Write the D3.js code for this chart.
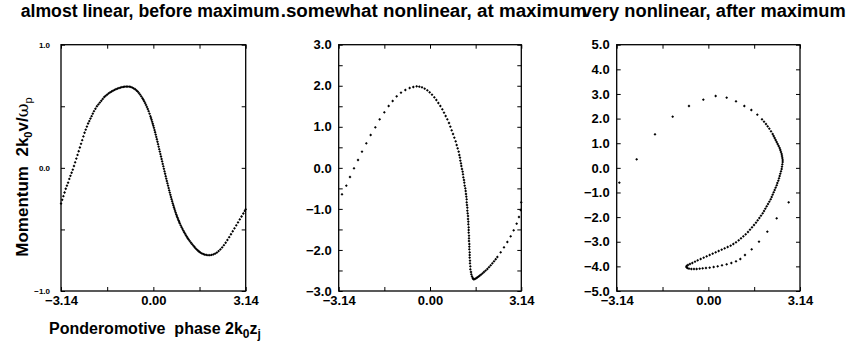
<!DOCTYPE html>
<html>
<head>
<meta charset="utf-8">
<script src="https://cdn.jsdelivr.net/npm/d3@7"></script>
<style>
  body { margin: 0; background: #fff; }
  svg text { font-family: "Liberation Sans", Arial, Helvetica, sans-serif; font-weight: bold; fill: #000; }
</style>
</head>
<body>
<svg id="chart" width="848" height="346"></svg>
<script>
// panel titles
const titles = ["almost linear, before maximum", ".somewhat nonlinear, at maximum", "very nonlinear, after maximum"];

// phase-space points [phase, momentum]
const almostLinear = [
  [-3.14,-0.29],[-3.10,-0.26],[-3.06,-0.23],[-3.02,-0.20],[-2.98,-0.17],[-2.94,-0.145],[-2.90,-0.12],[-2.86,-0.09],
  [-2.82,-0.065],[-2.78,-0.04],[-2.74,-0.015],[-2.70,0.015],[-2.66,0.045],[-2.62,0.075],[-2.58,0.105],[-2.54,0.135],
  [-2.50,0.165],[-2.46,0.195],[-2.42,0.225],[-2.38,0.255],[-2.34,0.285],[-2.30,0.31],[-2.26,0.335],[-2.22,0.36],
  [-2.18,0.38],[-2.14,0.40],[-2.10,0.42],[-2.06,0.44],[-2.02,0.46],[-1.97,0.48],[-1.92,0.50],[-1.87,0.515],
  [-1.82,0.53],[-1.77,0.545],[-1.72,0.56],[-1.67,0.575],[-1.62,0.585],[-1.57,0.595],[-1.52,0.605],[-1.47,0.613],
  [-1.42,0.62],[-1.37,0.627],[-1.32,0.633],[-1.27,0.639],[-1.22,0.644],[-1.17,0.648],[-1.12,0.652],[-1.07,0.655],
  [-1.02,0.657],[-0.97,0.659],[-0.92,0.66],[-0.87,0.66],[-0.82,0.659],[-0.77,0.657],[-0.72,0.652],[-0.67,0.646],
  [-0.62,0.638],[-0.57,0.628],[-0.53,0.619],[-0.49,0.607],[-0.45,0.594],[-0.41,0.58],[-0.37,0.565],[-0.34,0.553],
  [-0.31,0.54],[-0.28,0.526],[-0.25,0.511],[-0.22,0.495],[-0.19,0.478],[-0.16,0.46],[-0.13,0.44],[-0.10,0.42],
  [-0.08,0.405],[-0.06,0.39],[-0.04,0.374],[-0.02,0.358],[0.00,0.342],[0.02,0.325],[0.04,0.307],[0.06,0.289],
  [0.08,0.27],[0.10,0.251],[0.12,0.232],[0.14,0.212],[0.16,0.192],[0.18,0.172],[0.20,0.152],[0.22,0.132],
  [0.24,0.112],[0.26,0.092],[0.28,0.072],[0.30,0.052],[0.32,0.032],[0.34,0.012],[0.36,-0.008],[0.38,-0.028],
  [0.40,-0.048],[0.42,-0.068],[0.44,-0.088],[0.46,-0.107],[0.48,-0.126],[0.50,-0.145],[0.52,-0.164],[0.54,-0.183],
  [0.56,-0.201],[0.58,-0.219],[0.60,-0.237],[0.62,-0.254],[0.64,-0.271],[0.66,-0.288],[0.68,-0.304],[0.70,-0.32],
  [0.72,-0.335],[0.74,-0.35],[0.76,-0.364],[0.78,-0.378],[0.80,-0.391],[0.82,-0.404],[0.84,-0.416],[0.86,-0.428],
  [0.88,-0.44],[0.90,-0.451],[0.93,-0.467],[0.96,-0.482],[0.99,-0.496],[1.02,-0.51],[1.05,-0.523],[1.08,-0.536],
  [1.11,-0.548],[1.14,-0.56],[1.17,-0.571],[1.20,-0.582],[1.24,-0.595],[1.28,-0.608],[1.32,-0.62],[1.36,-0.632],
  [1.40,-0.643],[1.44,-0.654],[1.48,-0.664],[1.52,-0.673],[1.56,-0.681],[1.60,-0.688],[1.65,-0.695],[1.70,-0.70],
  [1.75,-0.704],[1.80,-0.707],[1.86,-0.709],[1.92,-0.709],[1.98,-0.707],[2.04,-0.703],[2.10,-0.697],[2.16,-0.688],
  [2.22,-0.676],[2.28,-0.662],[2.34,-0.646],[2.40,-0.628],[2.46,-0.608],[2.52,-0.586],[2.58,-0.563],[2.64,-0.539],
  [2.70,-0.515],[2.76,-0.491],[2.82,-0.467],[2.88,-0.443],[2.94,-0.419],[3.00,-0.395],[3.06,-0.371],[3.11,-0.35],
  [3.14,-0.337]
];

const somewhatNonlinear = [
  [-3.028,-0.645],[-2.879,-0.434],[-2.753,-0.223],[-2.615,-0.012],[-2.477,0.191],[-2.340,0.394],[-2.191,0.597],
  [-2.042,0.800],[-1.881,0.987],[-1.732,1.182],[-1.571,1.352],[-1.422,1.507],[-1.285,1.628],[-1.147,1.742],
  [-0.998,1.831],[-0.849,1.896],[-0.700,1.945],[-0.574,1.969],[-0.459,1.986],[-0.367,1.978],[-0.275,1.961],
  [-0.183,1.929],[-0.092,1.888],[-0.011,1.840],[0.069,1.783],[0.149,1.718],[0.218,1.653],[0.287,1.580],
  [0.356,1.507],[0.424,1.425],[0.482,1.344],[0.539,1.263],[0.596,1.182],[0.654,1.093],[0.700,1.003],
  [0.746,0.914],[0.792,0.825],[0.837,0.735],[0.883,0.646],[0.918,0.557],[0.952,0.475],[0.986,0.394],
  [1.009,0.313],[1.032,0.248],[1.044,0.175],[1.066,0.110],[1.078,0.045],[1.101,-0.028],[1.124,-0.093],
  [1.136,-0.158],[1.147,-0.231],[1.170,-0.296],[1.181,-0.361],[1.193,-0.434],[1.216,-0.499],[1.228,-0.564],
  [1.239,-0.637],[1.250,-0.702],[1.262,-0.767],[1.262,-0.840],[1.273,-0.905],[1.285,-0.970],[1.285,-1.043],
  [1.296,-1.108],[1.308,-1.173],[1.308,-1.246],[1.319,-1.311],[1.319,-1.376],[1.331,-1.449],[1.331,-1.514],
  [1.331,-1.579],[1.342,-1.652],[1.342,-1.717],[1.342,-1.782],[1.353,-1.855],[1.353,-1.920],[1.353,-1.985],
  [1.365,-2.058],[1.365,-2.123],[1.365,-2.188],[1.376,-2.261],[1.376,-2.326],[1.388,-2.399],[1.388,-2.472],
  [1.411,-2.537],[1.422,-2.594],[1.445,-2.643],[1.468,-2.683],[1.491,-2.708],[1.514,-2.716],[1.548,-2.705],
  [1.583,-2.691],[1.622,-2.672],[1.664,-2.651],[1.708,-2.628],[1.755,-2.602],[1.805,-2.571],[1.858,-2.537],
  [1.914,-2.502],[1.973,-2.464],[2.03,-2.42],[2.088,-2.375],[2.145,-2.327],[2.202,-2.278],[2.26,-2.226],
  [2.317,-2.172],[2.432,-2.059],[2.546,-1.937],[2.661,-1.807],[2.776,-1.669],[2.879,-1.523],[2.982,-1.360],
  [3.062,-1.198],[3.120,-1.027],[3.140,-0.840]
];

const veryNonlinear = [
  [-3.051,-0.601],[-2.457,0.346],[-1.829,1.361],[-1.223,2.078],[-0.664,2.511],[-0.172,2.768],[0.251,2.917],
  [0.628,2.850],[0.948,2.701],[1.233,2.511],[1.473,2.349],[1.679,2.159],[1.839,1.970],[1.908,1.875],
  [1.976,1.781],[2.033,1.686],[2.090,1.591],[2.148,1.483],[2.205,1.375],[2.239,1.294],[2.273,1.212],
  [2.307,1.131],[2.342,1.050],[2.376,0.969],[2.410,0.887],[2.445,0.806],[2.467,0.725],[2.490,0.644],
  [2.513,0.563],[2.524,0.481],[2.536,0.400],[2.547,0.319],[2.547,0.238],[2.536,0.143],[2.524,0.048],
  [2.513,-0.047],[2.490,-0.141],[2.467,-0.236],[2.445,-0.331],[2.422,-0.425],[2.399,-0.520],[2.365,-0.615],
  [2.342,-0.710],[2.307,-0.804],[2.273,-0.899],[2.239,-0.994],[2.205,-1.089],[2.170,-1.183],[2.136,-1.278],
  [2.090,-1.373],[2.045,-1.467],[1.999,-1.562],[1.953,-1.657],[1.908,-1.752],[1.862,-1.846],[1.805,-1.941],
  [1.748,-2.036],[1.690,-2.131],[1.633,-2.225],[1.565,-2.320],[1.496,-2.415],[1.428,-2.510],[1.359,-2.604],
  [1.279,-2.699],[1.199,-2.780],[1.119,-2.861],[1.039,-2.943],[0.948,-3.024],[0.856,-3.091],[0.765,-3.159],
  [0.662,-3.213],[0.559,-3.267],[0.457,-3.321],[0.354,-3.376],[0.251,-3.430],[0.148,-3.484],[0.045,-3.538],
  [-0.058,-3.592],[-0.160,-3.646],[-0.263,-3.700],[-0.366,-3.754],[-0.457,-3.809],[-0.549,-3.863],
  [-0.629,-3.903],[-0.698,-3.944],[-0.743,-3.985],[-0.755,-4.025],[-0.720,-4.066],[-0.663,-4.093],
  [-0.583,-4.107],[-0.492,-4.107],[-0.400,-4.107],[-0.298,-4.093],[-0.195,-4.080],[-0.081,-4.066],
  [0.045,-4.052],[0.182,-4.025],[0.320,-3.998],[0.468,-3.957],[0.628,-3.917],[0.788,-3.863],[0.948,-3.795],
  [1.096,-3.700],[1.256,-3.538],[1.485,-3.308],[1.736,-2.996],[2.022,-2.590],[2.342,-2.049],[2.753,-1.400]
];

const panelData = [almostLinear, somewhatNonlinear, veryNonlinear];

// axis ranges and ticks
const yDomains = [[-1, 1], [-3, 3], [-5, 5]];
const yTicks = [
  [-1, -0.5, 0, 0.5, 1],
  [-3, -2.5, -2, -1.5, -1, -0.5, 0, 0.5, 1, 1.5, 2, 2.5, 3],
  [-5, -4, -3, -2, -1, 0, 1, 2, 3, 4, 5]
];
const xTicks = [-Math.PI, -Math.PI / 2, 0, Math.PI / 2, Math.PI];
const xLabelled = [-Math.PI, 0, Math.PI];

const svg = d3.select("#chart");
const plotTop = 44.7, plotBottom = 291;
const lefts = [61, 338.7, 616.7];
const widths = [184.7, 182.6, 183.3];

// small diamond marker
const diamond = {
  draw(ctx, size) {
    const r = Math.sqrt(size / 2);
    ctx.moveTo(0, -r); ctx.lineTo(r, 0); ctx.lineTo(0, r); ctx.lineTo(-r, 0); ctx.closePath();
  }
};
const marker = d3.symbol().type(diamond).size(4);

function styleAxis(g) {
  g.select(".domain").remove();
  g.selectAll(".tick line").attr("stroke", "#000").attr("stroke-width", 1);
}

panelData.forEach((pts, i) => {
  const x = d3.scaleLinear().domain([-Math.PI, Math.PI]).range([lefts[i], lefts[i] + widths[i]]);
  const y = d3.scaleLinear().domain(yDomains[i]).range([plotBottom, plotTop]);
  const g = svg.append("g");
  const labelSize = i === 0 ? 8 : 13;

  // y axis left, labels only on whole numbers
  g.append("g")
    .attr("transform", "translate(" + x.range()[0] + ",0)")
    .call(d3.axisLeft(y).tickValues(yTicks[i]).tickSize(-4).tickPadding(i === 0 ? 11 : 7)
      .tickFormat(d => Number.isInteger(d) ? d3.format(".1f")(d) : ""))
    .call(styleAxis)
    .selectAll("text").style("font-size", labelSize + "px").attr("fill", "#000");

  g.append("g")
    .attr("transform", "translate(" + x.range()[1] + ",0)")
    .call(d3.axisRight(y).tickValues(yTicks[i]).tickSize(-4).tickFormat(""))
    .call(styleAxis);

  g.append("g")
    .attr("transform", "translate(0," + plotBottom + ")")
    .call(d3.axisBottom(x).tickValues(xTicks).tickSize(-4).tickPadding(5)
      .tickFormat(d => xLabelled.includes(d) ? d3.format(".2f")(d) : ""))
    .call(styleAxis)
    .selectAll("text").style("font-size", "13px").attr("fill", "#000");

  g.append("g")
    .attr("transform", "translate(0," + plotTop + ")")
    .call(d3.axisTop(x).tickValues(xTicks).tickSize(-4).tickFormat(""))
    .call(styleAxis);

  // frame
  g.append("rect")
    .attr("x", x.range()[0]).attr("y", plotTop)
    .attr("width", x.range()[1] - x.range()[0]).attr("height", plotBottom - plotTop)
    .attr("fill", "none").attr("stroke", "#000").attr("stroke-width", 1.3);

  // particles
  g.append("g").selectAll("path")
    .data(pts)
    .enter()
    .append("path")
    .attr("transform", d => "translate(" + x(d[0]) + "," + y(d[1]) + ")")
    .attr("d", marker)
    .attr("fill", "#000");
});

// titles (they overlap in the original)
const titleX = [20.7, 280.7, 581.7];
const titleLen = [259, 306, 264];
titles.forEach((t, i) => {
  svg.append("text")
    .attr("x", titleX[i]).attr("y", 17)
    .attr("textLength", titleLen[i])
    .attr("lengthAdjust", "spacingAndGlyphs")
    .style("font-size", "18px")
    .text(t);
});

// y axis label
const yl = svg.append("text")
  .attr("transform", "translate(28,177) rotate(-90)")
  .attr("text-anchor", "middle")
  .style("font-size", "17px")
  .style("white-space", "pre");
yl.append("tspan").text("Momentum  2k");
yl.append("tspan").attr("dy", 4).style("font-size", "11px").text("0");
yl.append("tspan").attr("dy", -4).text("v/");
yl.append("tspan").style("font-family", "'DejaVu Serif', serif").style("font-weight", "normal").text("ω");
yl.append("tspan").attr("dy", 4).style("font-size", "11px").style("font-weight", "normal").text("p");

// x axis label
const xl = svg.append("text")
  .attr("x", 49).attr("y", 334)
  .style("font-size", "16px")
  .style("white-space", "pre");
xl.append("tspan").text("Ponderomotive  phase 2k");
xl.append("tspan").attr("dy", 4).style("font-size", "12px").text("0");
xl.append("tspan").attr("dy", -4).text("z");
xl.append("tspan").attr("dy", 4).style("font-size", "12px").text("j");
</script>
</body>
</html>
